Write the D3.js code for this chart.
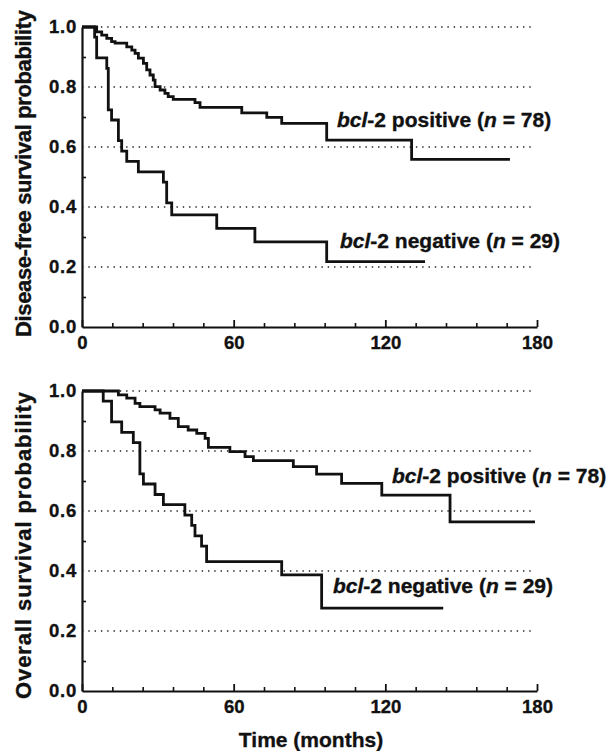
<!DOCTYPE html>
<html><head><meta charset="utf-8">
<script src="https://cdn.jsdelivr.net/npm/d3@7"></script>
<style>
html,body{margin:0;padding:0;background:#fff;}
svg{display:block;}
text{font-family:"Liberation Sans",Arial,Helvetica,sans-serif;font-weight:bold;fill:#111;stroke:#111;stroke-width:0.35px;}
</style></head>
<body>
<svg id="chart" width="608" height="751"></svg>
<script>
// ---- data ----
const dfsPosTimes = [0, 5.8, 7.8, 9.8, 11.7, 13.1, 17.7, 19.7, 21.0, 22.3, 24.3, 25.6, 26.9, 28.2, 28.9, 30.9, 32.8, 34.1, 36.1, 44.7, 46.7, 63.2, 73.1, 79.0, 96.8, 130.4, 169.3];
const dfsPosSurv  = [1.0, 0.984, 0.973, 0.962, 0.951, 0.946, 0.934, 0.923, 0.912, 0.896, 0.879, 0.857, 0.840, 0.823, 0.801, 0.790, 0.779, 0.768, 0.759, 0.748, 0.732, 0.714, 0.699, 0.679, 0.623, 0.559, 0.559];
const dfsNegTimes = [0, 5.0, 5.8, 9.8, 10.4, 11.7, 14.4, 15.7, 17.7, 22.3, 32.2, 33.5, 35.5, 53.3, 68.4, 96.8, 135.7];
const dfsNegSurv  = [1.0, 0.966, 0.897, 0.862, 0.724, 0.690, 0.621, 0.586, 0.552, 0.517, 0.483, 0.414, 0.374, 0.329, 0.284, 0.218, 0.218];
const osPosTimes  = [0, 14.4, 17.7, 21.0, 22.9, 28.9, 30.9, 34.8, 38.1, 42.0, 45.4, 48.7, 50.0, 58.5, 64.5, 67.8, 83.6, 92.8, 102.7, 118.6, 145.6, 179.2];
const osPosSurv   = [1.0, 0.987, 0.976, 0.959, 0.948, 0.937, 0.926, 0.909, 0.881, 0.870, 0.859, 0.842, 0.812, 0.798, 0.781, 0.768, 0.748, 0.723, 0.692, 0.653, 0.564, 0.564];
const osNegTimes  = [0, 8.4, 11.7, 15.7, 20.3, 22.9, 24.3, 28.9, 32.2, 40.7, 43.4, 44.7, 47.3, 49.3, 79.0, 94.8, 142.9];
const osNegSurv   = [1.0, 0.966, 0.897, 0.862, 0.828, 0.724, 0.690, 0.655, 0.621, 0.586, 0.552, 0.517, 0.483, 0.431, 0.387, 0.276, 0.276];

const xMajorTicks = [0, 60, 120, 180];
const xMinorTicks = [12, 24, 36, 48, 72, 84, 96, 108, 132, 144, 156, 168];
const yMajorTicks = [0, 0.2, 0.4, 0.6, 0.8, 1.0];
const yMinorTicks = [0.1, 0.3, 0.5, 0.7, 0.9];
const gridValues  = [0.2, 0.4, 0.6, 0.8, 1.0];

const panelTitles = ["Disease-free survival probability", "Overall survival probability"];
const xTitle = "Time (months)";
const posLabel = {pre: "bcl", mid: "-2 positive (", n: "n", post: " = 78)"};
const negLabel = {pre: "bcl", mid: "-2 negative (", n: "n", post: " = 29)"};

// ---- layout ----
const svg = d3.select("#chart");
const x = d3.scaleLinear().domain([0, 180]).range([82, 537]);

const panels = [
  {yRange: [327, 27], title: panelTitles[0], titleCenter: 173.5, titleLen: 327,
   series: [{t: dfsPosTimes, s: dfsPosSurv}, {t: dfsNegTimes, s: dfsNegSurv}],
   labels: [{lab: posLabel, x: 337, y: 127}, {lab: negLabel, x: 340, y: 248}]},
  {yRange: [691, 391], title: panelTitles[1], titleCenter: 545.5, titleLen: 307,
   series: [{t: osPosTimes, s: osPosSurv}, {t: osNegTimes, s: osNegSurv}],
   labels: [{lab: posLabel, x: 392, y: 482.5}, {lab: negLabel, x: 333, y: 593}]}
];

panels.forEach(p => {
  const y = d3.scaleLinear().domain([0, 1]).range(p.yRange);
  const g = svg.append("g");

  // dotted grid
  g.selectAll("line.grid").data(gridValues).enter().append("line")
    .attr("x1", x(0)).attr("x2", x(177.5))
    .attr("y1", d => y(d)).attr("y2", d => y(d))
    .attr("stroke", "#222").attr("stroke-width", 1.4)
    .attr("stroke-dasharray", "1.4,4.9");

  // x axis: minor ticks
  g.append("g").attr("transform", `translate(0,${y(0)})`)
    .call(d3.axisBottom(x).tickValues(xMinorTicks).tickSizeInner(-4).tickSizeOuter(0).tickFormat(""))
    .call(a => a.select(".domain").remove())
    .call(a => a.selectAll("line").attr("stroke", "#111").attr("stroke-width", 1.6));
  // x axis: major ticks + labels
  g.append("g").attr("transform", `translate(0,${y(0)})`)
    .call(d3.axisBottom(x).tickValues(xMajorTicks).tickSizeInner(-7).tickSizeOuter(0).tickPadding(9).tickFormat(d3.format("d")))
    .call(a => a.select(".domain").attr("stroke", "#111").attr("stroke-width", 2.2))
    .call(a => a.selectAll("line").attr("stroke", "#111").attr("stroke-width", 1.8))
    .call(a => a.selectAll("text").attr("font-size", 18.5).attr("fill", "#111")
      .style("font-family", '"Liberation Sans",Arial,sans-serif').style("font-weight", "bold"));

  // y axis
  g.append("g").attr("transform", `translate(${x(0)},0)`)
    .call(d3.axisLeft(y).tickValues(yMinorTicks).tickSizeInner(-4).tickSizeOuter(0).tickFormat(""))
    .call(a => a.select(".domain").remove())
    .call(a => a.selectAll("line").attr("stroke", "#111").attr("stroke-width", 1.6));
  g.append("g").attr("transform", `translate(${x(0)},0)`)
    .call(d3.axisLeft(y).tickValues(yMajorTicks).tickSizeInner(0).tickSizeOuter(0).tickPadding(5).tickFormat(d3.format(".1f")))
    .call(a => a.select(".domain").attr("stroke", "#111").attr("stroke-width", 2.2))
    .call(a => a.selectAll("text").attr("font-size", 18.5).attr("fill", "#111").attr("letter-spacing", 0.8)
      .style("font-family", '"Liberation Sans",Arial,sans-serif').style("font-weight", "bold"));

  // survival curves
  const line = d3.line().curve(d3.curveStepAfter).x(d => x(d[0])).y(d => y(d[1]));
  p.series.forEach(sr => {
    g.append("path")
      .datum(sr.t.map((t, i) => [t, sr.s[i]]))
      .attr("d", line)
      .attr("fill", "none").attr("stroke", "#111")
      .attr("stroke-width", 2.8).attr("stroke-linejoin", "miter");
  });

  // curve labels
  p.labels.forEach(L => {
    const t = g.append("text").attr("x", L.x).attr("y", L.y).attr("font-size", 21);
    t.append("tspan").attr("font-style", "italic").text(L.lab.pre);
    t.append("tspan").text(L.lab.mid);
    t.append("tspan").attr("font-style", "italic").text(L.lab.n);
    t.append("tspan").text(L.lab.post);
  });

  // y title
  g.append("text")
    .attr("transform", `translate(31,${p.titleCenter}) rotate(-90)`)
    .attr("text-anchor", "middle").attr("font-size", 22)
    .attr("textLength", p.titleLen).attr("lengthAdjust", "spacing")
    .text(p.title);
});

svg.append("text").attr("x", 311).attr("y", 746.5)
  .attr("text-anchor", "middle").attr("font-size", 21).text(xTitle);
</script>
</body></html>
